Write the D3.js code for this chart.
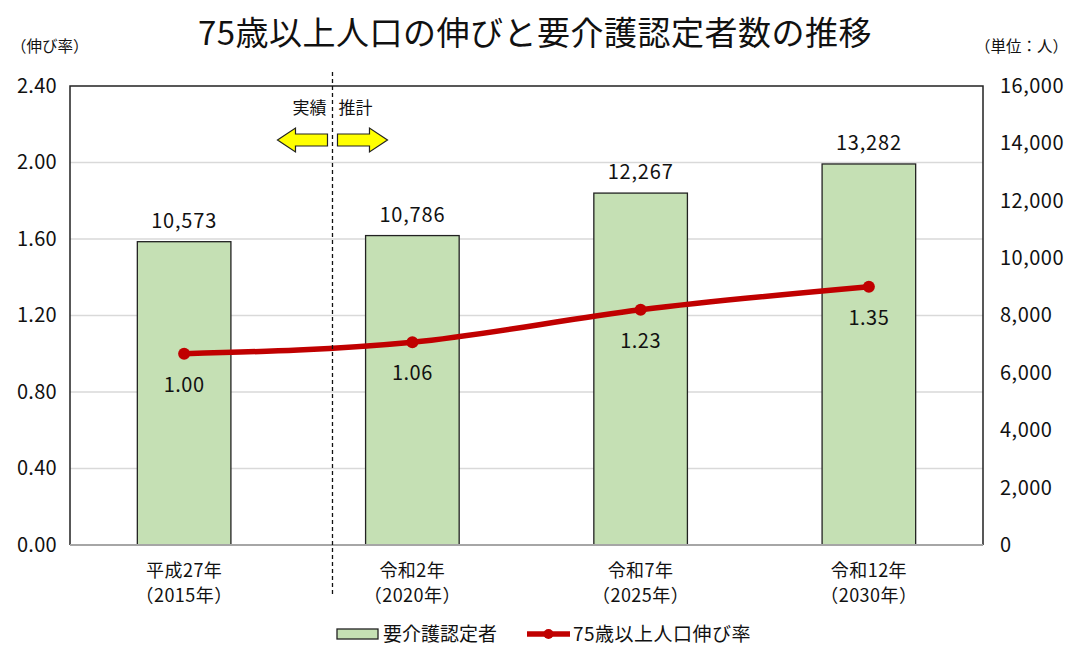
<!DOCTYPE html>
<html>
<head>
<meta charset="utf-8">
<script src="https://cdn.jsdelivr.net/npm/d3@7"></script>
<style>
  body { margin: 0; background: #fff; }
  text { font-family: "Noto Sans CJK JP", "Noto Sans", sans-serif; fill: #111; }
</style>
</head>
<body>
<svg id="chart" width="1076" height="646"></svg>
<script>
// data
const years = ["平成27年", "令和2年", "令和7年", "令和12年"];
const yearsSub = ["（2015年）", "（2020年）", "（2025年）", "（2030年）"];
const certified = [10573, 10786, 12267, 13282];
const growthRate = [1.00, 1.06, 1.23, 1.35];
const leftTicks = [0, 0.4, 0.8, 1.2, 1.6, 2.0, 2.4];
const rightTicks = [0, 2000, 4000, 6000, 8000, 10000, 12000, 14000, 16000];

var margin = { top: 86, left: 70, right: 93, bottom: 101 },
    width = 1076 - margin.left - margin.right,
    height = 646 - margin.top - margin.bottom;

const svg = d3.select("#chart");
const g = svg.append("g").attr("transform", "translate(" + margin.left + "," + margin.top + ")");

const x = d3.scaleBand().domain(years).range([0, width]).paddingInner(0.59).paddingOuter(0.295);
const yL = d3.scaleLinear().domain([0, 2.4]).range([height, 0]);
const yR = d3.scaleLinear().domain([0, 16000]).range([height, 0]);
const cx = d => x(d) + x.bandwidth() / 2;
const numFont = "\"Noto Sans CJK JP\", sans-serif";

// title
svg.append("text")
    .attr("x", 535).attr("y", 45)
    .attr("text-anchor", "middle")
    .attr("font-size", "33px")
    .attr("letter-spacing", "0.5px")
    .text("75歳以上人口の伸びと要介護認定者数の推移");

svg.append("text").attr("x", 11).attr("y", 52).attr("font-size", "15.5px").text("（伸び率）");
svg.append("text").attr("x", 975).attr("y", 52).attr("font-size", "15.5px").text("（単位：人）");

// gridlines
g.selectAll(".grid")
    .data(leftTicks.slice(1, -1))
    .enter().append("line")
    .attr("x1", 0).attr("x2", width)
    .attr("y1", d => yL(d)).attr("y2", d => yL(d))
    .attr("stroke", "#d9d9d9").attr("stroke-width", 1.5);

// left axis
const axL = g.append("g").call(d3.axisLeft(yL).tickValues(leftTicks).tickFormat(d3.format(".2f")).tickSize(0).tickPadding(13));
axL.select(".domain").remove();
axL.selectAll("text").attr("font-size", "20px").attr("fill", "#111").attr("letter-spacing", "0.3px").style("font-family", numFont);

// right axis
const axR = g.append("g").attr("transform", "translate(" + width + ",0)")
    .call(d3.axisRight(yR).tickValues(rightTicks).tickFormat(d3.format(",")).tickSize(0).tickPadding(17));
axR.select(".domain").remove();
axR.selectAll("text").attr("font-size", "20px").attr("fill", "#111").attr("letter-spacing", "0.5px").style("font-family", numFont);

// bars
g.selectAll(".bar")
    .data(certified)
    .enter().append("rect")
    .attr("class", "bar")
    .attr("x", (d, i) => x(years[i]))
    .attr("width", x.bandwidth())
    .attr("y", d => yR(d))
    .attr("height", d => height - yR(d))
    .attr("fill", "#c5e0b4")
    .attr("stroke", "#222").attr("stroke-width", 1.3);

g.selectAll(".barlabel")
    .data(certified)
    .enter().append("text")
    .attr("x", (d, i) => cx(years[i]))
    .attr("y", d => yR(d) - 14)
    .attr("text-anchor", "middle")
    .attr("font-size", "20px")
    .attr("letter-spacing", "0.8px")
    .text(d => d3.format(",")(d));

// frame
g.append("path")
    .attr("d", "M0," + height + "V0H" + width + "V" + height)
    .attr("fill", "none").attr("stroke", "#222").attr("stroke-width", 1.5);
g.append("line")
    .attr("x1", 0).attr("x2", width).attr("y1", height).attr("y2", height)
    .attr("stroke", "#a6a6a6").attr("stroke-width", 2);

// line
const line = d3.line()
    .x((d, i) => cx(years[i]))
    .y(d => yL(d))
    .curve(d3.curveMonotoneX);
g.append("path")
    .datum(growthRate)
    .attr("d", line)
    .attr("fill", "none")
    .attr("stroke", "#c00000").attr("stroke-width", 5.5);
g.selectAll(".dot")
    .data(growthRate)
    .enter().append("circle")
    .attr("cx", (d, i) => cx(years[i]))
    .attr("cy", d => yL(d))
    .attr("r", 6)
    .attr("fill", "#c00000");
g.selectAll(".linelabel")
    .data(growthRate)
    .enter().append("text")
    .attr("x", (d, i) => cx(years[i]))
    .attr("y", d => yL(d) + 38)
    .attr("text-anchor", "middle")
    .attr("font-size", "20px")
    .attr("letter-spacing", "0.5px")
    .text(d => d3.format(".2f")(d));

// category labels
const cat = g.selectAll(".cat").data(years).enter().append("g")
    .attr("transform", d => "translate(" + cx(d) + "," + height + ")");
cat.append("text").attr("y", 32).attr("text-anchor", "middle").attr("font-size", "18px").attr("letter-spacing", "0.5px").text(d => d);
cat.append("text").attr("y", 57).attr("text-anchor", "middle").attr("font-size", "18px").attr("letter-spacing", "0.5px").text((d, i) => yearsSub[i]);

// actual / estimate divider
const divX = cx(years[0]) + (cx(years[1]) - cx(years[0])) * 0.65;
g.append("line")
    .attr("x1", divX).attr("x2", divX)
    .attr("y1", -14).attr("y2", height + 52)
    .attr("stroke", "#111").attr("stroke-width", 1.3).attr("stroke-dasharray", "4,3");
g.append("text").attr("x", divX - 6).attr("y", 28).attr("text-anchor", "end").attr("font-size", "17px").text("実績");
g.append("text").attr("x", divX + 6).attr("y", 28).attr("text-anchor", "start").attr("font-size", "17px").text("推計");

function arrow(dir) {
    // arrow 50 wide, 24 tall, pointing along dir from origin at the divider side
    const pts = [[0, -6], [32, -6], [32, -12], [50, 0], [32, 12], [32, 6], [0, 6]];
    return "M" + pts.map(p => [p[0] * dir, p[1]].join(",")).join("L") + "Z";
}
g.append("path").attr("d", arrow(-1))
    .attr("transform", "translate(" + (divX - 5) + ",54)")
    .attr("fill", "#ffff00").attr("stroke", "#222").attr("stroke-width", 1.2);
g.append("path").attr("d", arrow(1))
    .attr("transform", "translate(" + (divX + 5) + ",54)")
    .attr("fill", "#ffff00").attr("stroke", "#222").attr("stroke-width", 1.2);

// legend
const lg = svg.append("g").attr("transform", "translate(337,634)");
lg.append("rect").attr("x", 0).attr("y", -5).attr("width", 41).attr("height", 10)
    .attr("fill", "#c5e0b4").attr("stroke", "#222").attr("stroke-width", 1.3);
lg.append("text").attr("x", 46).attr("y", 7).attr("font-size", "19px").text("要介護認定者");
lg.append("line").attr("x1", 190).attr("x2", 233).attr("y1", 0).attr("y2", 0)
    .attr("stroke", "#c00000").attr("stroke-width", 5.5);
lg.append("circle").attr("cx", 211.5).attr("cy", 0).attr("r", 5).attr("fill", "#c00000");
lg.append("text").attr("x", 236).attr("y", 7).attr("font-size", "19px").attr("letter-spacing", "0.5px").text("75歳以上人口伸び率");
</script>
</body>
</html>
